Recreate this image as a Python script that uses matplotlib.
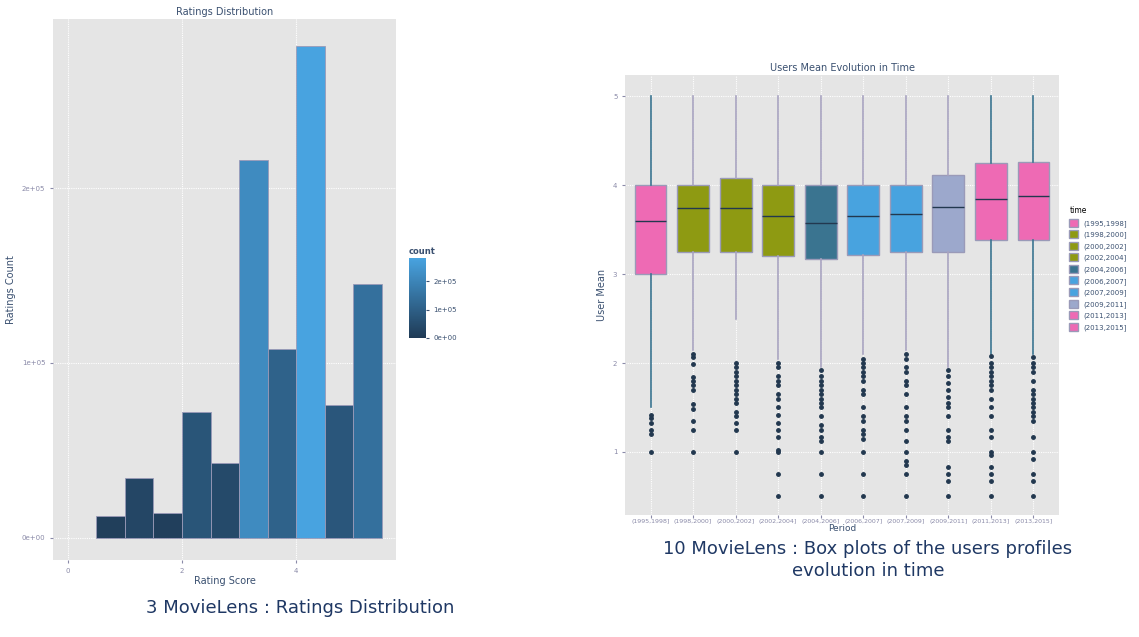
import matplotlib.pyplot as plt
import matplotlib as mpl
import numpy as np
from matplotlib.patches import Patch

W, H = 1139, 637

# ratings histogram
bin_left = [0.5, 1.0, 1.5, 2.0, 2.5, 3.0, 3.5, 4.0, 4.5, 5.0]
counts = [12600, 34000, 14000, 72000, 43000, 216000, 108000, 281000, 76000, 145000]

# box plots
periods = ["(1995,1998]", "(1998,2000]", "(2000,2002]", "(2002,2004]", "(2004,2006]",
           "(2006,2007]", "(2007,2009]", "(2009,2011]", "(2011,2013]", "(2013,2015]"]
q1 = [3.0, 3.25, 3.25, 3.2, 3.17, 3.22, 3.25, 3.25, 3.38, 3.38]
med = [3.6, 3.74, 3.74, 3.65, 3.58, 3.65, 3.68, 3.75, 3.85, 3.88]
q3 = [4.0, 4.0, 4.08, 4.0, 4.0, 4.0, 4.0, 4.12, 4.25, 4.26]
wlo = [1.5, 2.15, 2.5, 2.05, 1.95, 2.1, 2.15, 1.95, 2.1, 2.1]
whi = [5, 5, 5, 5, 5, 5, 5, 5, 5, 5]
outliers = [
    [1.42, 1.38, 1.33, 1.25, 1.2, 1.0],
    [2.1, 2.07, 1.99, 1.84, 1.8, 1.75, 1.7, 1.54, 1.48, 1.35, 1.25, 1.0],
    [2.0, 1.95, 1.9, 1.85, 1.8, 1.75, 1.7, 1.65, 1.6, 1.55, 1.45, 1.4, 1.33, 1.25, 1.0],
    [2.0, 1.95, 1.85, 1.8, 1.75, 1.65, 1.6, 1.5, 1.42, 1.33, 1.25, 1.17, 1.02, 1.0, 0.75, 0.5],
    [1.92, 1.85, 1.8, 1.75, 1.7, 1.65, 1.6, 1.55, 1.5, 1.4, 1.3, 1.25, 1.17, 1.12, 1.0, 0.75, 0.5],
    [2.05, 2.0, 1.95, 1.9, 1.85, 1.8, 1.7, 1.65, 1.5, 1.4, 1.35, 1.25, 1.2, 1.15, 1.0, 0.75, 0.5],
    [2.1, 2.05, 1.95, 1.9, 1.8, 1.75, 1.65, 1.5, 1.4, 1.35, 1.25, 1.12, 1.0, 0.9, 0.85, 0.75, 0.5],
    [1.92, 1.85, 1.78, 1.7, 1.62, 1.55, 1.5, 1.4, 1.25, 1.17, 1.12, 0.83, 0.75, 0.67, 0.5],
    [2.08, 2.0, 1.95, 1.9, 1.85, 1.8, 1.75, 1.7, 1.6, 1.5, 1.4, 1.25, 1.17, 1.0, 0.97, 0.83, 0.75, 0.67, 0.5],
    [2.07, 2.0, 1.95, 1.9, 1.8, 1.7, 1.65, 1.6, 1.55, 1.5, 1.45, 1.4, 1.35, 1.17, 1.0, 0.92, 0.75, 0.67, 0.5],
]
box_colors = ["#EE6AB4", "#8E9A12", "#8E9A12", "#8E9A12", "#3A7490",
              "#48A3DF", "#48A3DF", "#9CA8CC", "#EE6AB4", "#EE6AB4"]
whisker_colors = ["#3A7490", "#A8A3C0", "#A8A3C0", "#A8A3C0", "#A8A3C0",
                  "#A8A3C0", "#A8A3C0", "#A8A3C0", "#3A7490", "#3A7490"]

bg = "#E5E5E5"
tick_c = "#8A8AA8"
lab_c = "#3A5070"
navy = "#1F3864"

fig = plt.figure(figsize=(W / 100, H / 100), dpi=100)

def axes_px(l, t, r, b):
    return fig.add_axes([l / W, 1 - b / H, (r - l) / W, (b - t) / H])

def style(ax):
    ax.set_facecolor(bg)
    for s in ax.spines.values():
        s.set_visible(False)
    ax.tick_params(labelsize=5, colors=tick_c, length=2)
    ax.grid(color="white", lw=0.8, ls=(0, (1, 1)))
    ax.set_axisbelow(True)

# left: histogram
ax1 = axes_px(53, 19, 396, 560)
style(ax1)
cmap = mpl.colors.LinearSegmentedColormap.from_list("gg", ["#1F3A55", "#48A3E0"])
norm = mpl.colors.Normalize(0, max(counts))
ax1.bar(bin_left, counts, width=0.5, align="edge", color=cmap(norm(counts)),
        edgecolor="#9A9AB8", linewidth=0.6)
ax1.set_xlim(-0.26, 5.75)
ax1.set_ylim(-12600, 296600)
ax1.set_xticks([0, 2, 4])
ax1.set_yticks([0, 100000, 200000])
ax1.set_yticklabels(["0e+00", "1e+05", "2e+05"])
ax1.set_title("Ratings Distribution", fontsize=7, color=lab_c, pad=3)
ax1.set_xlabel("Rating Score", fontsize=7, color=lab_c, labelpad=2)
ax1.set_ylabel("Ratings Count", fontsize=7, color=lab_c, labelpad=4)

cax = axes_px(409, 258, 426, 338)
cb = fig.colorbar(mpl.cm.ScalarMappable(norm=norm, cmap=cmap), cax=cax)
cb.outline.set_visible(False)
cb.set_ticks([0, 100000, 200000])
cb.set_ticklabels(["0e+00", "1e+05", "2e+05"])
cb.ax.tick_params(labelsize=5, colors=lab_c, length=2)
cax.set_title("count", fontsize=6, color=lab_c, fontweight="bold", loc="left", pad=3)

# right: box plots
ax2 = axes_px(625, 75, 1059, 515)
style(ax2)
stats = []
for i in range(len(periods)):
    stats.append(dict(med=med[i], q1=q1[i], q3=q3[i], whislo=wlo[i], whishi=whi[i],
                      fliers=outliers[i], label=periods[i]))
bp = ax2.bxp(stats, positions=range(1, 11), widths=0.75, patch_artist=True,
             flierprops=dict(marker="o", ms=2.5, mfc="#22384F", mec="#22384F"),
             medianprops=dict(color="#22384F", lw=1))
for i in range(10):
    bp["boxes"][i].set_facecolor(box_colors[i])
    bp["boxes"][i].set_edgecolor("#9A9AB8")
    for w in bp["whiskers"][2 * i:2 * i + 2]:
        w.set_color(whisker_colors[i])
        w.set_linewidth(1.2)
    for c in bp["caps"][2 * i:2 * i + 2]:
        c.set_visible(False)
ax2.set_xlim(0.4, 10.6)
ax2.set_ylim(0.29, 5.24)
ax2.set_yticks([1, 2, 3, 4, 5])
ax2.set_xticklabels(periods, fontsize=4.5)
ax2.tick_params(axis="x", pad=1)
ax2.set_title("Users Mean Evolution in Time", fontsize=7, color=lab_c, pad=3)
ax2.set_xlabel("Period", fontsize=6.5, color=lab_c, labelpad=0)
ax2.set_ylabel("User Mean", fontsize=7, color=lab_c, labelpad=4)
handles = [Patch(facecolor=box_colors[i], edgecolor="#9A9AB8") for i in range(10)]
leg = fig.legend(handles, periods, loc="upper left", bbox_to_anchor=(1063 / W, 1 - 200 / H),
                 fontsize=5, title="time", title_fontsize=5.5, frameon=False,
                 handlelength=1.3, handleheight=1.4, labelspacing=0.5)
leg._legend_box.align = "left"
for t in leg.get_texts():
    t.set_color(lab_c)

fig.text(300 / W, 1 - 608 / H, "3 MovieLens : Ratings Distribution", fontsize=13,
         color=navy, ha="center", va="center")
fig.text(868 / W, 1 - 560 / H, "10 MovieLens : Box plots of the users profiles\nevolution in time",
         fontsize=13, color=navy, ha="center", va="center", linespacing=1.3)

fig.savefig("out.png", dpi=100)
